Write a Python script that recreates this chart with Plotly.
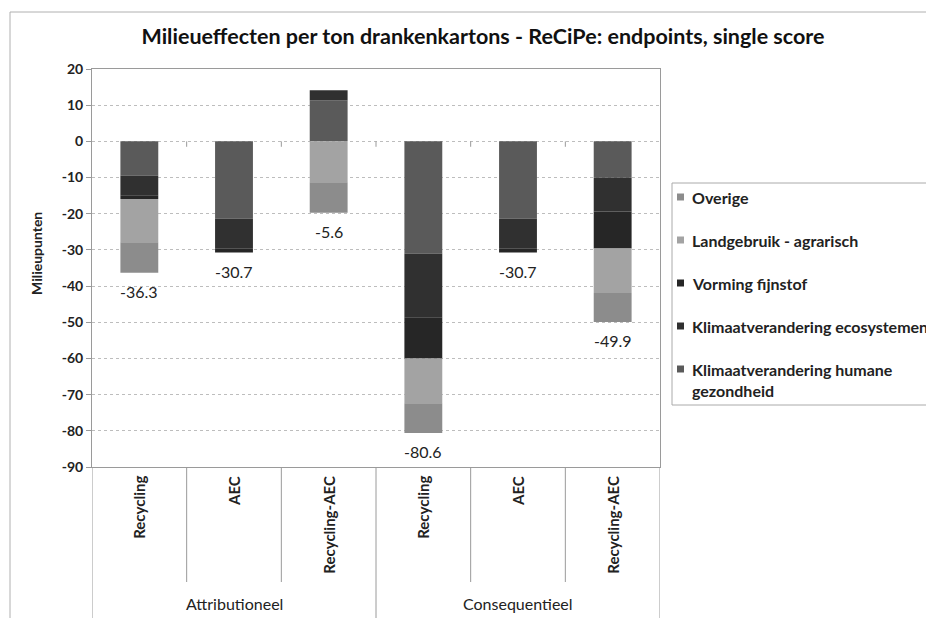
import plotly.graph_objects as go

# ---- data ----
groups = ["Attributioneel", "Attributioneel", "Attributioneel",
          "Consequentieel", "Consequentieel", "Consequentieel"]
categories = ["Recycling", "AEC", "Recycling-AEC", "Recycling", "AEC", "Recycling-AEC"]

series_names = ["Klimaatverandering humane<br>gezondheid",
                "Klimaatverandering ecosystemen",
                "Vorming fijnstof",
                "Landgebruik - agrarisch",
                "Overige"]
klimaat_humaan = [-9.5, -21.3, 11.3, -31.0, -21.3, -10.0]
klimaat_eco = [-5.4, -8.4, 2.8, -17.6, -8.4, -9.4]
fijnstof = [-1.0, -1.0, 0.0, -11.4, -1.0, -10.2]
landgebruik = [-12.0, 0.0, -11.3, -12.4, 0.0, -12.3]
overige = [-8.4, 0.0, -8.4, -8.2, 0.0, -8.0]
totals = [-36.3, -30.7, -5.6, -80.6, -30.7, -49.9]

y_ticks = [20, 10, 0, -10, -20, -30, -40, -50, -60, -70, -80, -90]

# ---- styling ----
colors = ["#5a5a5a", "#303030", "#262626", "#a3a3a3", "#8c8c8c"]
FONT = "Lato"
OFF = 8                      # page body margin
W, H = 934 - OFF, 618 - OFF  # figure size
PL, PR, PT, PB = 92, 660, 69, 467  # plot area in screen px


def px_x(px):
    return (px - PL) / (PR - PL)


def px_y(py):
    return (PB - py) / (PB - PT)


keys = [f"{g}|{c}" for g, c in zip(groups, categories)]
values = [klimaat_humaan, klimaat_eco, fijnstof, landgebruik, overige]
# bottom of each stacked bar (sum of the negative parts) -> label anchor
neg_bottom = [sum(v[j] for v in values if v[j] < 0) for j in range(len(keys))]

fig = go.Figure()
for i, (name, vals) in enumerate(zip(series_names, values)):
    fig.add_trace(go.Bar(
        x=keys, y=vals, name=name.replace("<br>", " "),
        marker=dict(color=colors[i], line=dict(width=0)),
        showlegend=False, hoverinfo="skip"))

annotations = []
shapes = []
line_col = "#9a9a9a"

# total labels (below the bar)
for k, t, yb in zip(keys, totals, neg_bottom):
    annotations.append(dict(x=k, y=yb, xref="x", yref="y", text=f"{t:.1f}",
                            showarrow=False, yshift=-19,
                            font=dict(family=FONT, size=16, color="#222")))
# category labels (rotated)
for k, c in zip(keys, categories):
    annotations.append(dict(x=k, y=px_y(474), xref="x", yref="paper", text=c,
                            textangle=-90, showarrow=False, yanchor="top",
                            font=dict(family=FONT, size=15, color="#222", weight="bold")))
# group labels
for gname, pos in [("Attributioneel", 1), ("Consequentieel", 4)]:
    annotations.append(dict(x=pos, y=px_y(603), xref="x", yref="paper", text=gname,
                            showarrow=False, yanchor="middle", xanchor="center",
                            font=dict(family=FONT, size=16, color="#222")))
# y-axis title
annotations.append(dict(x=px_x(37), y=px_y(254), xref="paper", yref="paper",
                        text="Milieupunten", textangle=-90, showarrow=False,
                        xanchor="center", yanchor="middle",
                        font=dict(family=FONT, size=14, color="#222", weight="bold")))

# legend (Excel order: last series on top)
shapes.append(dict(type="rect", xref="paper", yref="paper",
                   x0=px_x(672), x1=px_x(945), y0=px_y(183), y1=px_y(405),
                   line=dict(color="#aaaaaa", width=1), fillcolor="white"))
legend_y = [369, 326, 283, 240, 197]
for i, (name, col) in enumerate(zip(series_names, colors)):
    yc = legend_y[i]
    shapes.append(dict(type="rect", xref="paper", yref="paper",
                       x0=px_x(677), x1=px_x(684), y0=px_y(yc - 3.5), y1=px_y(yc + 3.5),
                       line=dict(width=0), fillcolor=col))
    annotations.append(dict(x=px_x(690), y=px_y(yc - 11), xref="paper", yref="paper",
                            text=name, showarrow=False, xanchor="left", yanchor="top",
                            align="left",
                            font=dict(family=FONT, size=16, color="#222", weight="bold")))

# category dividers below plot
for b in [0.5, 1.5, 3.5, 4.5]:
    shapes.append(dict(type="line", xref="x", yref="paper", x0=b, x1=b,
                       y0=0, y1=px_y(582), line=dict(color=line_col, width=1)))
for b in [-0.5, 2.5, 5.5]:
    shapes.append(dict(type="line", xref="x", yref="paper", x0=b, x1=b,
                       y0=0, y1=px_y(640), line=dict(color=line_col, width=1)))
# small tick marks on zero line
for b in [0.5, 1.5, 2.5, 3.5, 4.5]:
    shapes.append(dict(type="line", xref="x", yref="y", x0=b, x1=b,
                       y0=0, y1=-1.5, line=dict(color=line_col, width=1)))
# chart outer border
shapes.append(dict(type="rect", xref="paper", yref="paper",
                   x0=px_x(10), x1=px_x(960), y0=px_y(12), y1=px_y(640),
                   line=dict(color="#b0b0b0", width=1), fillcolor="rgba(0,0,0,0)"))

fig.update_layout(
    width=W, height=H,
    margin=dict(l=PL - OFF, r=W - (PR - OFF), t=PT - OFF, b=H - (PB - OFF), autoexpand=False),
    paper_bgcolor="white", plot_bgcolor="white",
    barmode="relative", bargap=0.6,
    title=dict(text="<b>Milieueffecten per ton drankenkartons - ReCiPe: endpoints, single score</b>",
               x=(483 - OFF) / W, xanchor="center", y=1 - (36 - OFF) / H, yanchor="middle",
               font=dict(family=FONT, size=21.5, color="#111")),
    font=dict(family=FONT, color="#222"),
    showlegend=False,
    xaxis=dict(type="category", categoryorder="array", categoryarray=keys,
               showticklabels=False, showgrid=False, ticks="",
               showline=True, mirror=True, linecolor=line_col, linewidth=1,
               range=[-0.5, 5.5], fixedrange=True),
    yaxis=dict(range=[-90, 20], tickvals=y_ticks, ticktext=[str(v) for v in y_ticks],
               showgrid=True, gridcolor="#bdbdbd", griddash="dot", gridwidth=1,
               zeroline=False, showline=True, mirror=True, linecolor=line_col,
               ticks="outside", ticklen=5, tickcolor=line_col,
               tickfont=dict(family=FONT, size=14, color="#222", weight="bold")),
    annotations=annotations, shapes=shapes,
)

fig.write_html("out.html")
